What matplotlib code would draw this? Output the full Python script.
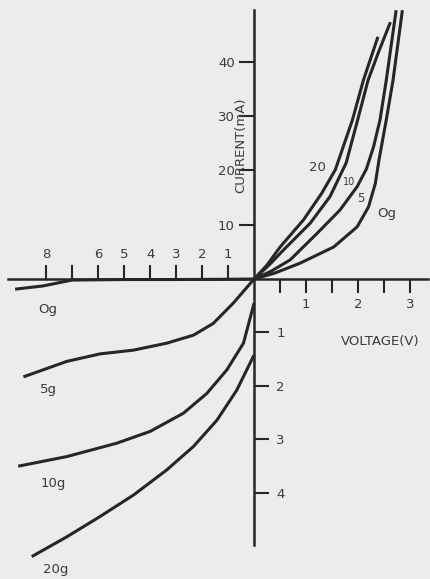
import numpy as np
import matplotlib
matplotlib.use("Agg")
import matplotlib.pyplot as plt

# forward bias: voltage [V], current [mA]
FWD_V_20 = [0, 0.25, 0.50, 0.95, 1.30, 1.56, 1.89, 2.10, 2.38]
FWD_I_20 = [0, 2.6, 5.9, 10.9, 15.8, 20.1, 29.3, 36.6, 44.6]
FWD_V_10 = [0, 0.28, 0.56, 1.08, 1.46, 1.77, 1.99, 2.19, 2.40, 2.62]
FWD_I_10 = [0, 2.5, 5.3, 10.3, 15.2, 21.4, 29.3, 36.6, 42.0, 47.3]
FWD_V_5 = [0, 0.32, 0.69, 1.21, 1.65, 1.98, 2.16, 2.30, 2.42, 2.54, 2.73]
FWD_I_5 = [0, 1.4, 3.5, 8.4, 12.7, 17.0, 20.3, 24.5, 29.3, 36.6, 49.5]
FWD_V_0 = [0, 0.40, 0.88, 1.53, 1.98, 2.20, 2.33, 2.40, 2.54, 2.67, 2.85]
FWD_I_0 = [0, 1.1, 2.9, 5.9, 9.6, 13.3, 17.6, 21.9, 29.3, 36.6, 49.5]

# reverse bias, in the units printed on the negative half-axes
REV_V_0 = [-9.19, -8.12, -7.0, -5.0, -3.0, -1.0, 0]
REV_I_0 = [-0.19, -0.13, -0.02, -0.01, -0.01, -0.005, 0]
REV_V_5 = [-8.87, -7.20, -5.92, -4.64, -3.36, -2.33, -1.57, -0.80, 0]
REV_I_5 = [-1.83, -1.54, -1.40, -1.33, -1.20, -1.05, -0.83, -0.45, 0]
REV_V_10 = [-9.07, -7.20, -5.28, -4.00, -2.72, -1.82, -1.05, -0.41, 0]
REV_I_10 = [-3.50, -3.32, -3.07, -2.85, -2.51, -2.14, -1.70, -1.20, -0.45]
REV_V_20 = [-8.55, -7.20, -5.92, -4.64, -3.36, -2.33, -1.43, -0.67, 0]
REV_I_20 = [-5.19, -4.82, -4.44, -4.04, -3.57, -3.13, -2.64, -2.08, -1.42]

X_TICKS_FWD = [0.5, 1, 1.5, 2, 2.5, 3]
X_LABELS_FWD = ['', '1', '', '2', '', '3']
X_TICKS_REV = [-1, -2, -3, -4, -5, -6, -7, -8]
X_LABELS_REV = ['1', '2', '3', '4', '5', '6', '', '8']
Y_TICKS_FWD = [10, 20, 30, 40]
Y_LABELS_FWD = ['10', '20', '30', '40']
Y_TICKS_REV = [-1, -2, -3, -4]
Y_LABELS_REV = ['1', '2', '3', '4']

# the negative half-axes are drawn at a different scale
NEG_X = 0.5
NEG_Y = 9.85

W, H = 431, 579
INK = '#262626'
TXT = '#3a3a3a'
PAPER = '#ececec'

plt.rcParams.update({
    'font.family': 'DejaVu Sans',
    'font.size': 9.5,
})


def fx(v):
    v = np.asarray(v, dtype=float)
    return np.where(v < 0, v * NEG_X, v)


def fx_inv(v):
    v = np.asarray(v, dtype=float)
    return np.where(v < 0, v / NEG_X, v)


def fy(v):
    v = np.asarray(v, dtype=float)
    return np.where(v < 0, v * NEG_Y, v)


def fy_inv(v):
    v = np.asarray(v, dtype=float)
    return np.where(v < 0, v / NEG_Y, v)


def px(x, y):
    return x / W, 1 - y / H


# ----------------------------------------------------------------------------------------------------
def plot_iv_curves():

    fig = plt.figure(figsize=(W / 100, H / 100), dpi=100, facecolor=PAPER)
    ax = fig.add_axes([0, 0, 1, 1])
    ax.set_facecolor('none')

    ax.set_xscale('function', functions=(fx, fx_inv))
    ax.set_yscale('function', functions=(fy, fy_inv))
    ax.set_xlim(-9.77, 3.40)
    ax.set_ylim(-5.609, 51.38)

    for name in ['left', 'bottom', 'right', 'top']:
        ax.spines[name].set_position(('data', 0))
        ax.spines[name].set_color(INK)
        ax.spines[name].set_linewidth(1.8)
    ax.spines['top'].set_visible(False)
    ax.spines['right'].set_visible(False)
    ax.spines['left'].set_bounds(-4.97, 49.5)
    ax.spines['bottom'].set_bounds(-9.46, 3.35)

    ax.set_xticks(X_TICKS_FWD, labels=X_LABELS_FWD)
    ax.set_xticks(X_TICKS_REV, labels=X_LABELS_REV, minor=True)
    ax.set_yticks(Y_TICKS_FWD, labels=Y_LABELS_FWD)
    ax.set_yticks(Y_TICKS_REV, labels=Y_LABELS_REV, minor=True)

    common = dict(direction='out', width=1.5, color=INK, labelcolor=TXT, labelsize=9.5)
    ax.tick_params(axis='x', which='major', bottom=True, top=False, labelbottom=True,
                   labeltop=False, length=10, pad=4, **common)
    ax.tick_params(axis='x', which='minor', bottom=False, top=True, labelbottom=False,
                   labeltop=True, length=10, pad=3, **common)
    ax.tick_params(axis='y', which='major', left=True, right=False, labelleft=True,
                   labelright=False, length=11, pad=3, **common)
    ax.tick_params(axis='y', which='minor', left=False, right=True, labelleft=False,
                   labelright=True, length=11, pad=5, **common)

    kw = dict(color=INK, lw=2.2, solid_capstyle='butt', solid_joinstyle='round')
    for v, i in [(FWD_V_20, FWD_I_20), (FWD_V_10, FWD_I_10), (FWD_V_5, FWD_I_5), (FWD_V_0, FWD_I_0),
                 (REV_V_0, REV_I_0), (REV_V_5, REV_I_5), (REV_V_10, REV_I_10), (REV_V_20, REV_I_20)]:
        ax.plot(v, i, **kw)

    # axis titles
    fig.text(*px(380, 342), 'VOLTAGE(V)', color=TXT, ha='center', va='center')
    fig.text(*px(241, 145), 'CURRENT(mA)', color=TXT, ha='center', va='center', rotation=90)

    # curve labels
    fig.text(*px(317, 167), '20', color=TXT, ha='center', va='center')
    fig.text(*px(349, 182), '10', color=TXT, ha='center', va='center', fontsize=7)
    fig.text(*px(361, 199), '5', color=TXT, ha='center', va='center', fontsize=8.5)
    fig.text(*px(387, 213), 'Og', color=TXT, ha='center', va='center')
    fig.text(*px(48, 310), 'Og', color=TXT, ha='center', va='center')
    fig.text(*px(48, 390), '5g', color=TXT, ha='center', va='center')
    fig.text(*px(53, 483), '10g', color=TXT, ha='center', va='center')
    fig.text(*px(56, 569), '20g', color=TXT, ha='center', va='center')

    fig.savefig('out.png', dpi=100, facecolor=PAPER)


# ----------------------------------------------------------------------------------------------------
if __name__ == '__main__':

    plot_iv_curves()
